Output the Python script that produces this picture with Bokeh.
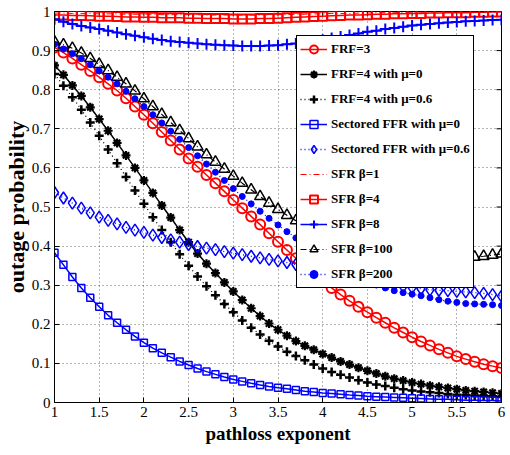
import math
from bokeh.plotting import figure
from bokeh.models import (Legend, LegendItem, FixedTicker,
                          CustomJSTickFormatter, ColumnDataSource)
from bokeh.embed import file_html
from bokeh.resources import INLINE

# ---------------- data ----------------
pathloss = [1.0, 1.1, 1.2, 1.3, 1.4, 1.5, 1.6, 1.7, 1.8, 1.9,
            2.0, 2.1, 2.2, 2.3, 2.4, 2.5, 2.6, 2.7, 2.8, 2.9,
            3.0, 3.1, 3.2, 3.3, 3.4, 3.5, 3.6, 3.7, 3.8, 3.9,
            4.0, 4.1, 4.2, 4.3, 4.4, 4.5, 4.6, 4.7, 4.8, 4.9,
            5.0, 5.1, 5.2, 5.3, 5.4, 5.5, 5.6, 5.7, 5.8, 5.9,
            6.0]

frf3 = [0.908, 0.895, 0.880, 0.864, 0.848, 0.832, 0.815, 0.798, 0.778, 0.757,
        0.736, 0.714, 0.692, 0.670, 0.647, 0.624, 0.603, 0.582, 0.561, 0.540,
        0.518, 0.497, 0.476, 0.455, 0.433, 0.411, 0.390, 0.369, 0.349, 0.330,
        0.311, 0.293, 0.276, 0.260, 0.245, 0.231, 0.217, 0.204, 0.191, 0.179,
        0.167, 0.156, 0.146, 0.136, 0.127, 0.118, 0.111, 0.104, 0.098, 0.093,
        0.088]

frf4_mu0 = [0.862, 0.838, 0.811, 0.784, 0.755, 0.725, 0.695, 0.664, 0.632, 0.600,
            0.568, 0.536, 0.504, 0.473, 0.441, 0.410, 0.381, 0.355, 0.331, 0.307,
            0.284, 0.262, 0.241, 0.221, 0.202, 0.186, 0.171, 0.157, 0.145, 0.135,
            0.124, 0.115, 0.105, 0.097, 0.089, 0.081, 0.074, 0.067, 0.061, 0.056,
            0.051, 0.047, 0.043, 0.040, 0.037, 0.034, 0.031, 0.029, 0.027, 0.025,
            0.023]

frf4_mu06 = [0.840, 0.810, 0.781, 0.749, 0.716, 0.682, 0.647, 0.612, 0.577, 0.542,
             0.508, 0.474, 0.441, 0.410, 0.379, 0.350, 0.322, 0.297, 0.274, 0.252,
             0.231, 0.210, 0.191, 0.174, 0.158, 0.143, 0.130, 0.119, 0.108, 0.097,
             0.087, 0.078, 0.071, 0.064, 0.057, 0.051, 0.046, 0.042, 0.038, 0.034,
             0.031, 0.028, 0.026, 0.024, 0.022, 0.020, 0.019, 0.018, 0.017, 0.016,
             0.015]

sffr_mu0 = [0.383, 0.352, 0.321, 0.293, 0.268, 0.245, 0.223, 0.204, 0.186, 0.169,
            0.153, 0.139, 0.127, 0.116, 0.105, 0.096, 0.087, 0.079, 0.072, 0.065,
            0.059, 0.054, 0.049, 0.045, 0.041, 0.038, 0.035, 0.032, 0.029, 0.027,
            0.024, 0.023, 0.021, 0.019, 0.018, 0.016, 0.015, 0.014, 0.013, 0.012,
            0.011, 0.010, 0.009, 0.008, 0.008, 0.007, 0.006, 0.006, 0.005, 0.005,
            0.004]

sffr_mu06 = [0.537, 0.523, 0.510, 0.497, 0.485, 0.474, 0.466, 0.457, 0.448, 0.441,
             0.435, 0.428, 0.422, 0.416, 0.410, 0.404, 0.399, 0.395, 0.391, 0.386,
             0.382, 0.378, 0.374, 0.370, 0.366, 0.362, 0.358, 0.353, 0.347, 0.342,
             0.336, 0.331, 0.326, 0.321, 0.316, 0.312, 0.308, 0.304, 0.300, 0.297,
             0.294, 0.291, 0.288, 0.287, 0.286, 0.284, 0.283, 0.281, 0.279, 0.276,
             0.272]

sfr_b1 = [0.996, 0.996, 0.995, 0.995, 0.995, 0.994, 0.994, 0.994, 0.993, 0.993,
          0.993, 0.993, 0.992, 0.992, 0.992, 0.992, 0.992, 0.991, 0.991, 0.991,
          0.991, 0.991, 0.991, 0.991, 0.992, 0.992, 0.992, 0.993, 0.993, 0.994,
          0.994, 0.995, 0.995, 0.995, 0.996, 0.996, 0.997, 0.997, 0.997, 0.998,
          0.998, 0.998, 0.998, 0.999, 0.999, 0.999, 0.999, 0.999, 1.000, 1.000,
          1.000]

sfr_b4 = [0.991, 0.991, 0.990, 0.990, 0.989, 0.988, 0.988, 0.987, 0.986, 0.986,
          0.985, 0.985, 0.984, 0.984, 0.984, 0.983, 0.983, 0.982, 0.982, 0.982,
          0.981, 0.981, 0.981, 0.982, 0.982, 0.983, 0.984, 0.985, 0.986, 0.987,
          0.988, 0.989, 0.990, 0.991, 0.991, 0.992, 0.993, 0.993, 0.994, 0.994,
          0.995, 0.995, 0.996, 0.996, 0.997, 0.997, 0.997, 0.998, 0.998, 0.999,
          0.999]

sfr_b8 = [0.980, 0.974, 0.968, 0.963, 0.959, 0.955, 0.951, 0.946, 0.942, 0.938,
          0.934, 0.930, 0.927, 0.924, 0.922, 0.920, 0.918, 0.916, 0.915, 0.914,
          0.913, 0.912, 0.912, 0.912, 0.913, 0.914, 0.916, 0.918, 0.921, 0.924,
          0.928, 0.932, 0.936, 0.940, 0.944, 0.948, 0.951, 0.955, 0.958, 0.961,
          0.964, 0.966, 0.968, 0.970, 0.972, 0.973, 0.975, 0.976, 0.977, 0.978,
          0.979]

sfr_b100 = [0.923, 0.915, 0.906, 0.894, 0.880, 0.865, 0.849, 0.832, 0.815, 0.797,
            0.777, 0.757, 0.737, 0.716, 0.696, 0.675, 0.654, 0.634, 0.615, 0.597,
            0.579, 0.561, 0.544, 0.527, 0.510, 0.494, 0.479, 0.465, 0.452, 0.440,
            0.429, 0.419, 0.410, 0.402, 0.395, 0.389, 0.384, 0.380, 0.377, 0.374,
            0.372, 0.371, 0.370, 0.369, 0.369, 0.369, 0.370, 0.372, 0.374, 0.377,
            0.380]

sfr_b200 = [0.916, 0.904, 0.892, 0.879, 0.864, 0.848, 0.832, 0.815, 0.796, 0.777,
            0.757, 0.736, 0.715, 0.694, 0.673, 0.652, 0.631, 0.610, 0.589, 0.568,
            0.547, 0.527, 0.508, 0.489, 0.471, 0.454, 0.437, 0.421, 0.405, 0.390,
            0.376, 0.362, 0.349, 0.336, 0.324, 0.313, 0.302, 0.293, 0.286, 0.281,
            0.277, 0.273, 0.268, 0.263, 0.259, 0.256, 0.253, 0.252, 0.251, 0.250,
            0.248]

x_ticks = [1, 1.5, 2, 2.5, 3, 3.5, 4, 4.5, 5, 5.5, 6]
y_ticks = [0, 0.1, 0.2, 0.3, 0.4, 0.5, 0.6, 0.7, 0.8, 0.9, 1]

labels = ["FRF=3", "FRF=4 with \u03bc=0", "FRF=4 with \u03bc=0.6",
          "Sectored FFR with \u03bc=0", "Sectored FFR with \u03bc=0.6",
          "SFR \u03b2=1", "SFR \u03b2=4", "SFR \u03b2=8", "SFR \u03b2=100",
          "SFR \u03b2=200"]

# ---------------- figure ----------------
SERIF = "Liberation Serif"
p = figure(width=510, height=455, x_range=(1, 6), y_range=(0, 1),
           output_backend="svg", toolbar_location=None,
           min_border_left=53, min_border_right=9,
           min_border_top=11, min_border_bottom=53)
p.background_fill_color = "white"
p.border_fill_color = "white"
p.outline_line_color = "black"
p.outline_line_width = 1
p.outline_line_alpha = 1

fmt = CustomJSTickFormatter(code="return String(Math.round(tick*10)/10);")
p.xaxis.ticker = FixedTicker(ticks=x_ticks)
p.yaxis.ticker = FixedTicker(ticks=y_ticks)
p.xgrid.ticker = FixedTicker(ticks=x_ticks)
p.ygrid.ticker = FixedTicker(ticks=y_ticks)
for ax in [p.xaxis[0], p.yaxis[0]]:
    ax.formatter = fmt
    ax.major_tick_in = 5
    ax.major_tick_out = 0
    ax.minor_tick_in = 0
    ax.minor_tick_out = 0
    ax.axis_line_color = "black"
    ax.major_tick_line_color = "black"
    ax.major_label_text_font = SERIF
    ax.major_label_text_font_size = "15px"
    ax.major_label_text_color = "black"
    ax.major_label_standoff = 4
    ax.axis_label_text_font = SERIF
    ax.axis_label_text_font_style = "bold"
    ax.axis_label_text_color = "black"
p.xaxis.axis_label = "pathloss exponent"
p.xaxis.axis_label_text_font_size = "19px"
p.xaxis.axis_label_standoff = 3
p.yaxis.axis_label = "outage probability"
p.yaxis.axis_label_text_font_size = "22px"
p.yaxis.axis_label_standoff = 0

for g in [p.xgrid[0], p.ygrid[0]]:
    g.grid_line_color = "black"
    g.grid_line_dash = "1 3"
    g.grid_line_alpha = 0.6
    g.grid_line_width = 1

# box ticks on top and right edges (inward)
p.ray(x=x_ticks, y=[1] * len(x_ticks), length=5, length_units="screen",
      angle=-math.pi / 2, line_color="black", line_width=1)
p.ray(x=[6] * len(y_ticks), y=y_ticks, length=5, length_units="screen",
      angle=math.pi, line_color="black", line_width=1)

RED, BLUE, BLACK = "#ff0000", "#0000ff", "#000000"
series = [frf3, frf4_mu0, frf4_mu06, sffr_mu0, sffr_mu06,
          sfr_b1, sfr_b4, sfr_b8, sfr_b100, sfr_b200]
styles = [
    dict(color=RED, dash="solid", lw=1.5, marker="circle", size=10, mlw=2, fill=None),
    dict(color=BLACK, dash="solid", lw=1.5, marker="asterisk", size=9, mlw=2.2, fill=None),
    dict(color=BLACK, dash="1 3", lw=1.3, marker="cross", size=9, mlw=2.5, fill=None),
    dict(color=BLUE, dash="solid", lw=1.5, marker="square", size=7, mlw=1.5, fill=None),
    dict(color=BLUE, dash="1 3", lw=1.3, marker="diamond", size=12, mlw=1.5, fill=None),
    dict(color=RED, dash="6 3 1 3", lw=1, marker=None),
    dict(color=RED, dash="solid", lw=1.5, marker="square", size=9, mlw=2, fill=None),
    dict(color=BLUE, dash="solid", lw=1.5, marker="cross", size=11, mlw=2, fill=None),
    dict(color=BLACK, dash="6 3 1 3", lw=1.2, marker="triangle", size=11, mlw=1.5, fill=None),
    dict(color=BLUE, dash="1 3", lw=1.3, marker="circle", size=6, mlw=1, fill=BLUE),
]

items = []
for lab, ys, st in zip(labels, series, styles):
    src = ColumnDataSource(dict(x=pathloss, y=ys))
    rs = []
    rs.append(p.line("x", "y", source=src, line_color=st["color"],
                     line_width=st["lw"], line_dash=st["dash"]))
    if st["marker"]:
        rs.append(p.scatter("x", "y", source=src, marker=st["marker"], size=st["size"],
                            line_color=st["color"], line_width=st["mlw"],
                            fill_color=st["fill"], fill_alpha=1 if st["fill"] else 0))
    items.append(LegendItem(label=lab, renderers=rs))

legend = Legend(items=items, location=(242, 114))
legend.border_line_color = "black"
legend.border_line_width = 1
legend.border_line_alpha = 1
legend.background_fill_color = "white"
legend.background_fill_alpha = 1
legend.label_text_font = SERIF
legend.label_text_font_style = "bold"
legend.label_text_font_size = "13px"
legend.label_text_color = "black"
legend.glyph_width = 27
legend.glyph_height = 20
legend.label_height = 20
legend.spacing = 5
legend.padding = 3
legend.margin = 0
legend.label_standoff = 4
p.add_layout(legend, "center")

open("out.html", "w").write(file_html(p, INLINE))
